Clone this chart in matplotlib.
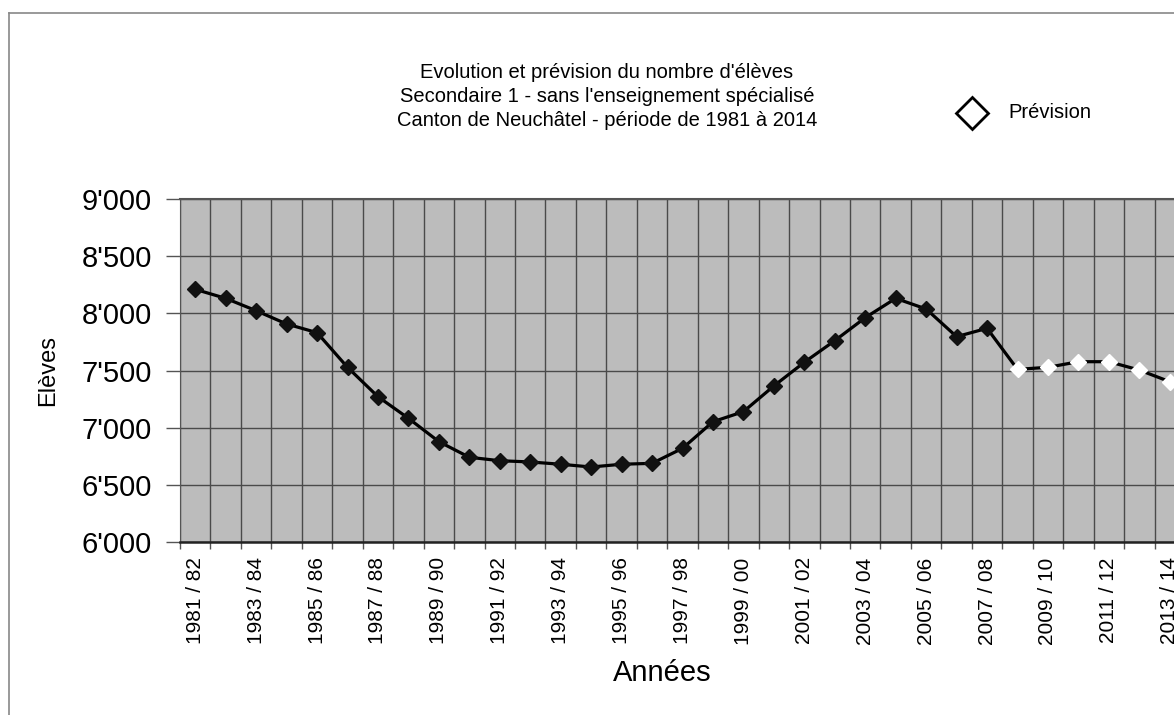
import numpy as np
import matplotlib
matplotlib.use("Agg")
import matplotlib.pyplot as plt
from matplotlib.lines import Line2D

plt.rcParams['font.family'] = ['Liberation Sans', 'DejaVu Sans']

years = [f"{y} / {str(y + 1)[-2:]}" for y in range(1981, 2014)]
observed = [8210, 8131, 8023, 7907, 7831, 7528, 7271, 7082, 6878, 6741,
            6711, 6700, 6680, 6656, 6680, 6688, 6819, 7052, 7140, 7365,
            7572, 7761, 7962, 8131, 8038, 7796, 7869]
forecast = [7510, 7528, 7577, 7577, 7504, 7402]
values = observed + forecast
yticks = [6000, 6500, 7000, 7500, 8000, 8500, 9000]
title_lines = ["Evolution et prévision du nombre d'élèves",
               "Secondaire 1 - sans l'enseignement spécialisé",
               "Canton de Neuchâtel - période de 1981 à 2014"]

W, H = 1174, 715
fig = plt.figure(figsize=(W / 100, H / 100), dpi=100)

# chart area border (partly cropped)
fig.add_artist(Line2D([9 / W, 1.0], [1 - 13 / H, 1 - 13 / H], color='#888888', lw=1.2))
fig.add_artist(Line2D([9 / W, 9 / W], [0.0, 1 - 13 / H], color='#888888', lw=1.2))

left, right, top, bottom = 180, 1185, 199, 542
ax = fig.add_axes([left / W, 1 - bottom / H, (right - left) / W, (bottom - top) / H])
ax.set_facecolor('#bcbcbc')

x = np.arange(len(values))
n_obs = len(observed)
ax.plot(x, values, color='black', lw=2.3, zorder=3, clip_on=False)
ax.plot(x[:n_obs], observed, linestyle='none', marker='D', ms=8,
        mfc='#111111', mec='#111111', zorder=4, clip_on=False)
ax.plot(x[n_obs:], forecast, linestyle='none', marker='D', ms=8,
        mfc='white', mec='white', zorder=4, clip_on=False)

ax.set_xlim(-0.5, len(values) - 0.5)
ax.set_ylim(6000, 9000)

ax.set_xticks(np.arange(-0.5, len(values), 1.0))
ax.set_xticklabels([])
ax.set_xticks(x[::2], minor=True)
ax.set_xticklabels(years[::2], minor=True, rotation=90, fontsize=15)
ax.tick_params(axis='x', which='major', direction='out', length=5, width=1, color='#555555')
ax.tick_params(axis='x', which='minor', length=0, pad=11)

ax.set_yticks(yticks)
ax.set_yticklabels([f"{v // 1000}'{v % 1000:03d}" for v in yticks], fontsize=21)
ax.tick_params(axis='y', direction='out', length=10, width=1, color='#555555', pad=10)

ax.grid(True, which='major', color='#4a4a4a', lw=1.0)
ax.set_axisbelow(True)
for s in ['top', 'right']:
    ax.spines[s].set_visible(False)
ax.spines['left'].set_color('#555555')
ax.spines['bottom'].set_color('#222222')
ax.spines['bottom'].set_linewidth(1.8)
ax.plot([-0.5, len(values) - 0.5], [9000, 9000], color='#555555', lw=1.5, clip_on=False, zorder=2)

ax.set_ylabel("Elèves", fontsize=17, labelpad=0)
ax.yaxis.set_label_coords(-(left - 59) / (right - left), 0.5)

fig.text(662 / W, 1 - 673 / H, "Années", fontsize=21, ha='center', va='center')

for i, line in enumerate(title_lines):
    fig.text(607 / W, 1 - (73 + 24 * i) / H, line, fontsize=14.5, ha='center', va='center')

fig.add_artist(Line2D([972 / W], [1 - 113 / H], marker='D', ms=16, mfc='white',
                      mec='black', mew=2, linestyle='none'))
fig.text(1008 / W, 1 - 113 / H, "Prévision", fontsize=14.5, ha='left', va='center')

fig.savefig("out.png", dpi=100)
